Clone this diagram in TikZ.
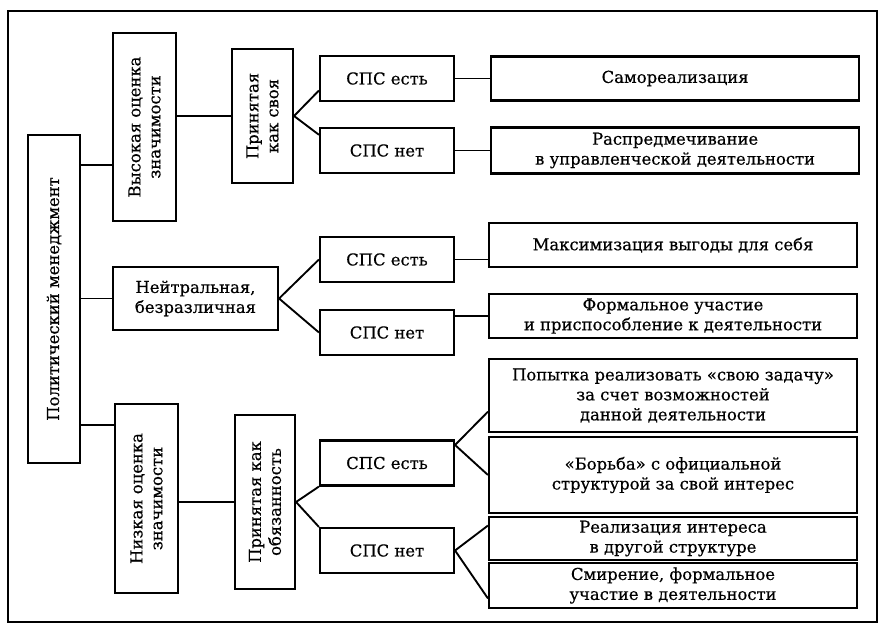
\documentclass[tikz,border=0pt]{standalone}
\usepackage{fontspec}
\setmainfont[FakeBold=0.5]{DejaVu Serif}
\usetikzlibrary{positioning}
\tikzset{
  box/.style={draw, line width=1.8pt, align=center, inner sep=1pt, font=\fontsize{14}{17}\selectfont},
  vbox/.style={box, rotate=90},
  sps/.style={box, minimum width=40.2mm, minimum height=13.5mm},
  res/.style={box, minimum width=110.4mm, minimum height=13.2mm},
  link/.style={line width=1.6pt}
}

\begin{document}
\begin{tikzpicture}[x=0.3mm, y=-0.3mm]
  \useasboundingbox (0,0) rectangle (879,625);
  \draw[line width=1.8pt] (8,11) rectangle (877,622);

  \node[vbox, minimum width=98.4mm, minimum height=15.6mm] (pm) at (54,299) {Политический менеджмент};
  \node[vbox, minimum width=56.4mm, minimum height=18.9mm] (hi) at (144.5,127) {Высокая оценка\\значимости};
  \node[box, minimum width=49.5mm, minimum height=18.9mm] (ne) at (195.5,298.5) {Нейтральная,\\безразличная};
  \node[vbox, minimum width=56.7mm, minimum height=18.9mm] (lo) at (146.5,498.5) {Низкая оценка\\значимости};
  \node[vbox, minimum width=40.2mm, minimum height=18.3mm] (own) at (262.5,116) {Принятая\\как своя};
  \node[vbox, minimum width=52.2mm, minimum height=18mm] (duty) at (265,502) {Принятая как\\обязанность};

  \node[sps] (y1) at (387,78.5) {СПС есть};
  \node[sps] (n1) at (387,150.5) {СПС нет};
  \node[sps] (y2) at (387,259.5) {СПС есть};
  \node[sps] (n2) at (387,332.5) {СПС нет};
  \node[sps] (y3) at (387,463) {СПС есть};
  \node[sps] (n3) at (387,550.5) {СПС нет};

  \node[res, right=10.5mm of y1] (r1) {Самореализация};
  \node[res, minimum height=13.8mm, right=10.5mm of n1] (r2) {Распредмечивание\\в управленческой деятельности};
  \node[res] (r3) at (673,245) {Максимизация выгоды для себя};
  \node[res] (r4) at (673,316) {Формальное участие\\и приспособление к деятельности};
  \node[res, minimum height=21.9mm] (r5) at (673,395.5) {Попытка реализовать «свою задачу»\\за счет возможностей\\данной деятельности};
  \node[res, minimum height=22.8mm] (r6) at (673,475) {«Борьба» с официальной\\структурой за свой интерес};
  \node[res, minimum height=12.9mm] (r7) at (673,538.5) {Реализация интереса\\в другой структуре};
  \node[res, minimum height=13.5mm] (r8) at (673,585.5) {Смирение, формальное\\участие в деятельности};

  \draw[link] ([yshift=-11.4mm]hi.north) -- ([yshift=-11.4mm]hi.north -| pm.south);
  \draw[link] (ne.west) -- (ne.west -| pm.south);
  \draw[link] ([yshift=22mm]lo.north) -- ([yshift=22mm]lo.north -| pm.south);
  \draw[link] (own.north) -- (own.north -| hi.south);
  \draw[link] (duty.north) -- (duty.north -| lo.south);

  \draw[link] (y1.190) -- (own.south) -- (n1.167);
  \draw[link] (y2.west) -- (ne.east) -- (n2.west);
  \draw[link] (y3.south west) -- (duty.south) -- (n3.north west);

  \draw[link] (y1.east) -- (r1.west);
  \draw[link] (n1.east) -- (r2.west);
  \draw[link] (y2.east) -- (y2.east -| r3.west);
  \draw[link] (r4.west) -- (r4.west -| n2.east);
  \draw[link] (r5.185) -- ([yshift=5.4mm]y3.east) -- (r6.west);
  \draw[link] (r7.176) -- (n3.east) -- (r8.184);
\end{tikzpicture}
\end{document}
